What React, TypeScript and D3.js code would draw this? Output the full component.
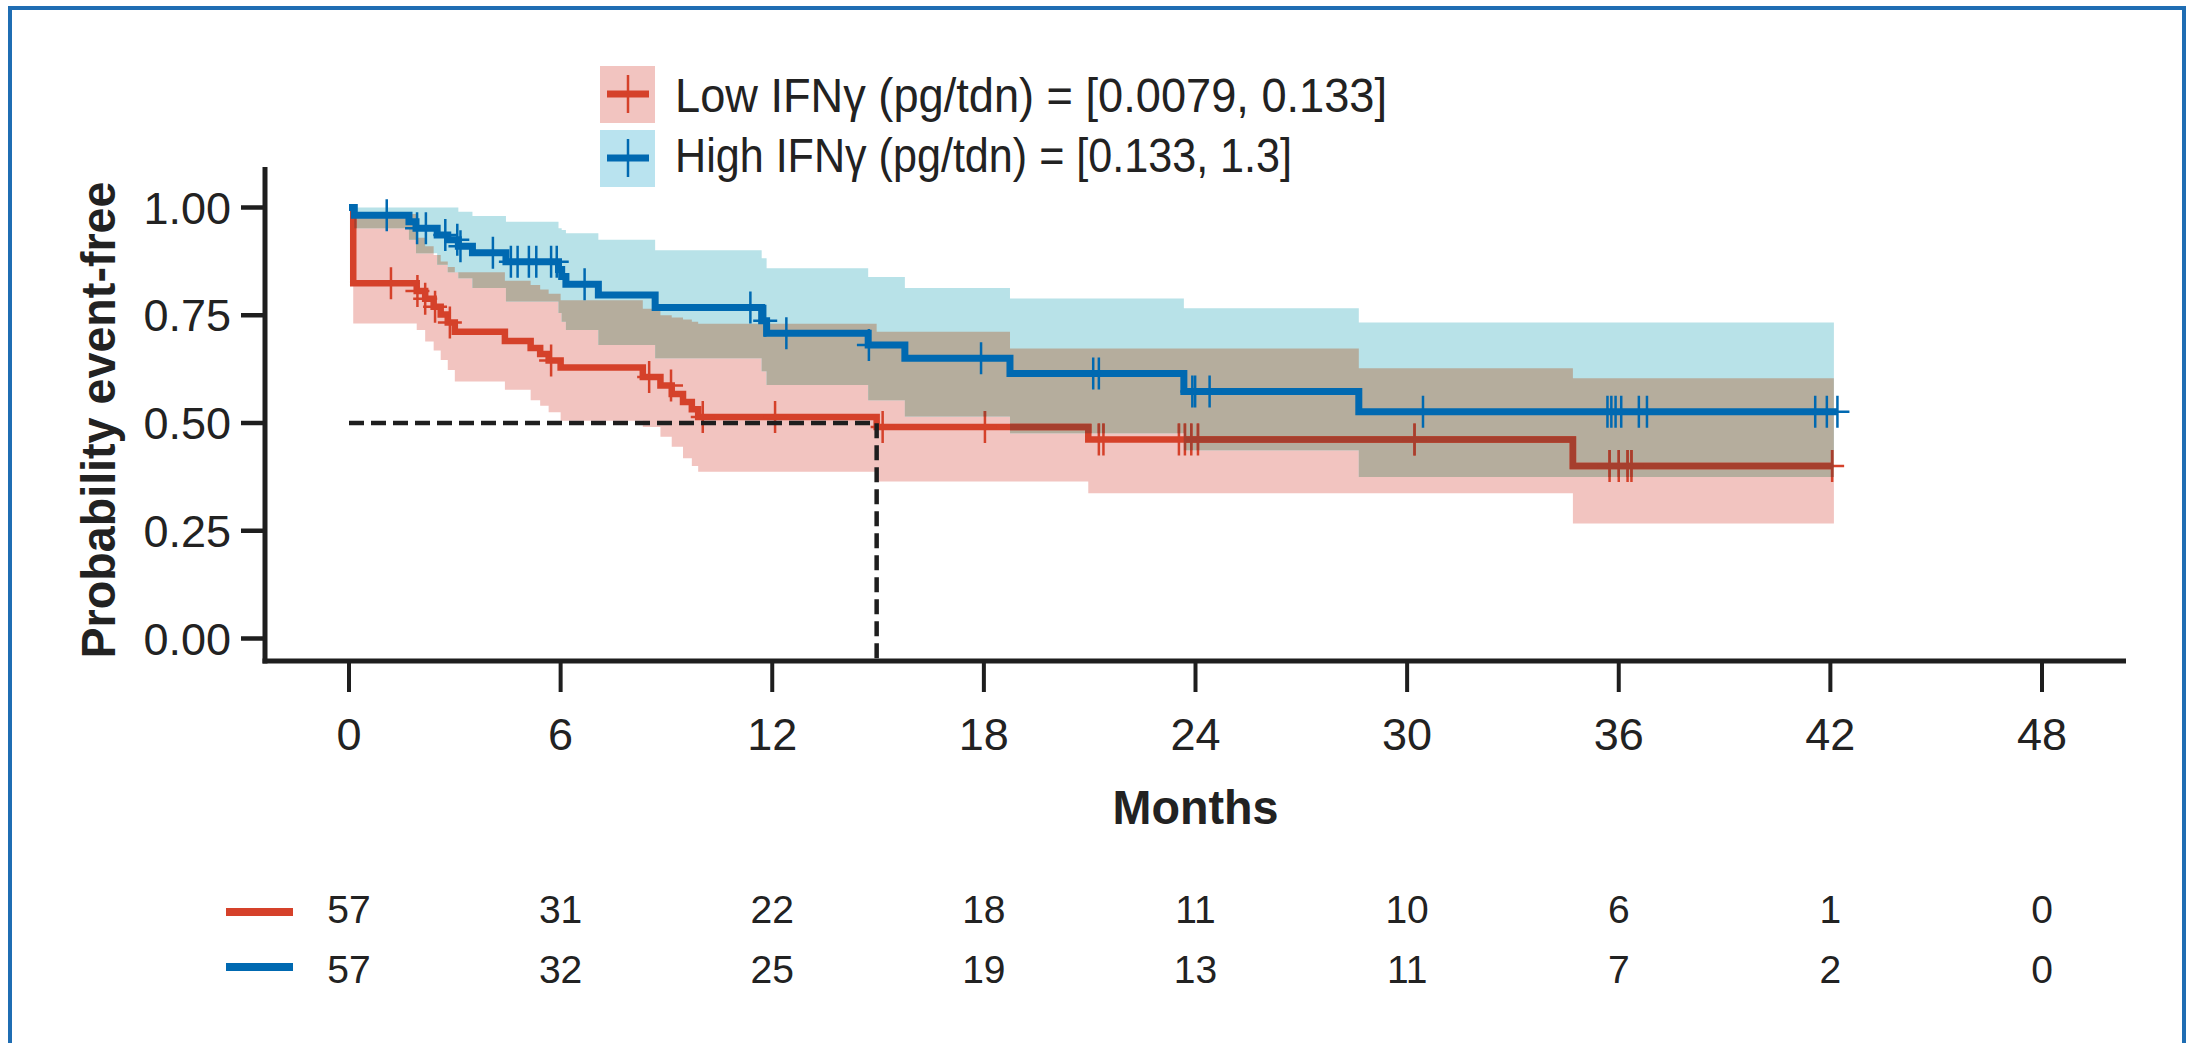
import React from "react";
import * as d3 from "d3";

const W = 2190;
const H = 1043;

const xTicks = [0, 6, 12, 18, 24, 30, 36, 42, 48];
const yTicks = [0, 0.25, 0.5, 0.75, 1];
const riskLow = [57, 31, 22, 18, 11, 10, 6, 1, 0];
const riskHigh = [57, 32, 25, 19, 13, 11, 7, 2, 0];
const legendLabels = [
  "Low IFNγ (pg/tdn) = [0.0079, 0.133]",
  "High IFNγ (pg/tdn) = [0.133, 1.3]",
];

// Low IFNγ: step times, survival and confidence limits
const lowTime = [0, 0.12, 1.92, 2.16, 2.4, 2.6, 2.8, 3.0, 4.42, 5.15, 5.42, 5.66, 6.0, 8.33, 8.83, 9.15, 9.47, 9.72, 9.9, 14.96, 18.74, 20.96, 28.63, 34.7];
const lowSurv = [1, 0.824, 0.806, 0.788, 0.77, 0.752, 0.733, 0.712, 0.69, 0.674, 0.66, 0.645, 0.629, 0.607, 0.587, 0.567, 0.549, 0.532, 0.514, 0.491, 0.491, 0.462, 0.462, 0.4];
const lowLower = [1, 0.731, 0.716, 0.689, 0.668, 0.646, 0.623, 0.596, 0.577, 0.553, 0.54, 0.525, 0.505, 0.491, 0.468, 0.445, 0.418, 0.4, 0.387, 0.364, 0.364, 0.337, 0.337, 0.267];
const lowUpper = [1, 0.985, 0.93, 0.91, 0.89, 0.875, 0.862, 0.85, 0.83, 0.82, 0.81, 0.8, 0.785, 0.765, 0.75, 0.745, 0.74, 0.735, 0.73, 0.712, 0.673, 0.673, 0.627, 0.604];
const lowCensor = [1.19, 1.94, 2.16, 2.44, 2.86, 5.73, 8.51, 9.13, 10.03, 12.08, 15.13, 18.03, 21.26, 21.39, 23.53, 23.7, 23.88, 24.07, 30.21, 35.74, 36.0, 36.25, 36.36, 42.05];

// High IFNγ
const highTime = [0, 0.15, 1.7, 1.9, 2.5, 2.8, 3.1, 3.5, 4.45, 5.94, 6.03, 6.15, 7.07, 8.68, 11.7, 11.84, 14.72, 15.76, 18.74, 23.67, 28.63];
const highSurv = [1, 0.982, 0.967, 0.952, 0.936, 0.925, 0.91, 0.895, 0.874, 0.856, 0.84, 0.822, 0.797, 0.768, 0.737, 0.708, 0.681, 0.65, 0.615, 0.573, 0.526];
const highLower = [1, 0.952, 0.925, 0.894, 0.867, 0.85, 0.836, 0.813, 0.782, 0.755, 0.735, 0.716, 0.681, 0.65, 0.62, 0.588, 0.553, 0.515, 0.476, 0.437, 0.375];
const highUpper = [1, 1, 1, 1, 1, 1, 0.99, 0.98, 0.967, 0.952, 0.948, 0.94, 0.925, 0.901, 0.882, 0.859, 0.839, 0.813, 0.789, 0.766, 0.733];
const highCensor = [1.07, 1.93, 2.18, 2.73, 3.07, 3.16, 4.08, 4.59, 4.78, 5.1, 5.31, 5.73, 5.89, 6.68, 11.38, 11.8, 12.4, 14.74, 17.92, 21.1, 21.26, 23.91, 23.99, 24.4, 30.45, 35.68, 35.79, 35.91, 36.07, 36.57, 36.8, 41.57, 41.9, 42.2];

const bandEnd = 42.1;
const lowMedian = 14.96;

const RED = "#d5412a";
const RED_DARK = "#a63f2e";
const BLUE = "#0069b1";
const PINK = "#f2c4c0";
const LIGHTBLUE = "#b8e2e8";
const TAN = "#b5ad9d";
const FONT = "'Liberation Sans', Arial, Helvetica, sans-serif";

type Band = { t: number; lo: number; hi: number };

export default function App() {
  const x = d3.scaleLinear().domain([0, 48]).range([349, 2042]);
  const y = d3.scaleLinear().domain([0, 1]).range([638.5, 207.5]);
  const axisX = 265;
  const axisY = 661;

  const line = d3
    .line<[number, number]>()
    .x((d) => x(d[0]))
    .y((d) => y(d[1]))
    .curve(d3.curveStepAfter);

  const area = d3
    .area<Band>()
    .x((d) => x(d.t))
    .y0((d) => y(d.lo))
    .y1((d) => y(d.hi))
    .curve(d3.curveStepAfter);

  const stepPts = (time: number[], surv: number[], end: number): [number, number][] => [
    ...time.map((t, i) => [t, surv[i]] as [number, number]),
    [end, surv[surv.length - 1]],
  ];
  const bandPts = (time: number[], lo: number[], hi: number[]): Band[] => [
    ...time.map((t, i) => ({ t, lo: lo[i], hi: hi[i] })),
    { t: bandEnd, lo: lo[lo.length - 1], hi: hi[hi.length - 1] },
  ];
  const survAt = (time: number[], surv: number[], t: number) =>
    surv[Math.max(0, d3.bisectRight(time, t) - 1)];
  const censorPath = (time: number[], surv: number[], cens: number[]) =>
    cens
      .map((c) => {
        const cx = x(c);
        const cy = y(survAt(time, surv, c));
        return `M${cx - 12},${cy}H${cx + 12}M${cx},${cy - 16}V${cy + 16}`;
      })
      .join("");

  const lowLine = line(stepPts(lowTime, lowSurv, d3.max(lowCensor)!))!;
  const highLine = line(stepPts(highTime, highSurv, d3.max(highCensor)!))!;
  const lowBand = area(bandPts(lowTime, lowLower, lowUpper))!;
  const highBand = area(bandPts(highTime, highLower, highUpper))!;
  const lowCens = censorPath(lowTime, lowSurv, lowCensor);
  const highCens = censorPath(highTime, highSurv, highCensor);

  const fmt = d3.format(".2f");

  const redGroup = (color: string) => (
    <g>
      <path d={lowLine} fill="none" stroke={color} strokeWidth={6.5} />
      <path d={lowCens} fill="none" stroke={color} strokeWidth={2.5} />
    </g>
  );

  return (
    <svg
      width={W}
      height={H}
      style={{ position: "absolute", left: 0, top: 0, background: "#fff" }}
      fontFamily={FONT}
    >
      <defs>
        <clipPath id="highBandClip">
          <path d={highBand} />
        </clipPath>
      </defs>
      <rect x={0} y={0} width={W} height={H} fill="#fff" />
      <rect x={10} y={8} width={2174} height={1100} fill="none" stroke="#1f6db3" strokeWidth={4} />

      {/* legend */}
      {legendLabels.map((lab, i) => {
        const top = i === 0 ? 66 : 130;
        const cy = top + 28;
        return (
          <g key={lab}>
            <rect x={600} y={top} width={55} height={57} fill={i === 0 ? PINK : "#b9e3ef"} />
            <line x1={607} x2={649} y1={cy} y2={cy} stroke={i === 0 ? RED : BLUE} strokeWidth={7} />
            <line x1={628} x2={628} y1={cy - 19} y2={cy + 19} stroke={i === 0 ? RED : BLUE} strokeWidth={2.5} />
            <text
              x={675}
              y={i === 0 ? 112 : 172}
              fontSize={49}
              fill="#222"
              textLength={i === 0 ? 712 : 617}
              lengthAdjust="spacingAndGlyphs"
            >
              {lab}
            </text>
          </g>
        );
      })}

      {/* bands */}
      <path d={lowBand} fill={PINK} />
      <path d={highBand} fill={LIGHTBLUE} />
      <path d={lowBand} fill={TAN} clipPath="url(#highBandClip)" />

      {/* low curve, darker where it sits inside the high band */}
      {redGroup(RED)}
      <g clipPath="url(#highBandClip)">{redGroup(RED_DARK)}</g>

      {/* median guide */}
      <path
        d={`M${x(0)},${y(0.5)}H${x(lowMedian)}V${axisY}`}
        fill="none"
        stroke="#1e1e1e"
        strokeWidth={4.5}
        strokeDasharray="15 7"
      />

      {/* high curve */}
      <path d={highLine} fill="none" stroke={BLUE} strokeWidth={7} />
      <path d={highCens} fill="none" stroke={BLUE} strokeWidth={2.5} />

      {/* axes */}
      <line x1={axisX} x2={axisX} y1={167} y2={axisY + 2.5} stroke="#1e1e1e" strokeWidth={5} />
      <line x1={axisX - 2.5} x2={2126} y1={axisY} y2={axisY} stroke="#1e1e1e" strokeWidth={5} />
      {yTicks.map((v) => (
        <g key={v}>
          <line x1={241} x2={axisX} y1={y(v)} y2={y(v)} stroke="#1e1e1e" strokeWidth={4.5} />
          <text x={231} y={y(v) + 16} textAnchor="end" fontSize={45} fill="#222">
            {fmt(v)}
          </text>
        </g>
      ))}
      {xTicks.map((v) => (
        <g key={v}>
          <line x1={x(v)} x2={x(v)} y1={axisY} y2={axisY + 31} stroke="#1e1e1e" strokeWidth={4} />
          <text x={x(v)} y={750} textAnchor="middle" fontSize={45} fill="#222">
            {v}
          </text>
        </g>
      ))}
      <text x={x(24)} y={824} textAnchor="middle" fontSize={48} fontWeight={700} fill="#222" textLength={166} lengthAdjust="spacingAndGlyphs">
        Months
      </text>
      <text
        transform="translate(115,420) rotate(-90)"
        textAnchor="middle"
        fontSize={48}
        fontWeight={700}
        fill="#222"
        textLength={477}
        lengthAdjust="spacingAndGlyphs"
      >
        Probability event-free
      </text>

      {/* numbers at risk */}
      <line x1={226} x2={293} y1={912} y2={912} stroke={RED} strokeWidth={8} />
      <line x1={226} x2={293} y1={967} y2={967} stroke={BLUE} strokeWidth={8} />
      {xTicks.map((v, i) => (
        <g key={`r${v}`}>
          <text x={x(v)} y={923} textAnchor="middle" fontSize={39} fill="#222">
            {riskLow[i]}
          </text>
          <text x={x(v)} y={983} textAnchor="middle" fontSize={39} fill="#222">
            {riskHigh[i]}
          </text>
        </g>
      ))}
    </svg>
  );
}
